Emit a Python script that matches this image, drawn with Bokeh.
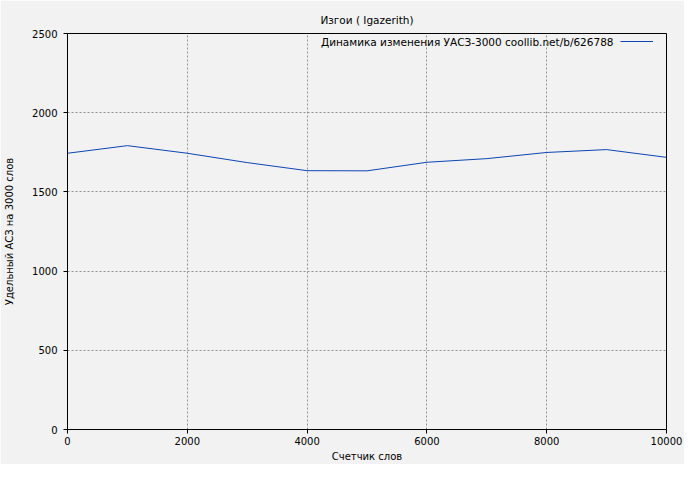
from bokeh.plotting import figure
from bokeh.models import ColumnDataSource, Legend, LegendItem, Label, FixedTicker, Range1d
from bokeh.core.properties import value
from bokeh.embed import file_html
from bokeh.resources import INLINE

# data
words = [0, 1000, 2000, 3000, 4000, 5000, 6000, 7000, 8000, 9000, 10000]
uasz = [1744, 1792, 1744, 1685, 1634, 1633, 1687, 1710, 1749, 1767, 1718]
x_ticks = [0, 2000, 4000, 6000, 8000, 10000]
y_ticks = [0, 500, 1000, 1500, 2000, 2500]
title_text = "Изгои ( Igazerith)"
legend_text = "Динамика изменения УАСЗ-3000 coollib.net/b/626788"
x_label = "Счетчик слов"
y_label = "Удельный АСЗ на 3000 слов"

FONT = "DejaVu Sans"
BG = "#f2f2f2"
LINE = "#0b46b4"

W, H = 684, 464
LEFT, RIGHT, TOP, BOTTOM = 67, 18, 33, 30
FW = W - LEFT - RIGHT
FH = H - TOP - BOTTOM

src = ColumnDataSource(dict(x=words, y=uasz))

p = figure(width=W, height=H, output_backend="svg", toolbar_location=None,
           x_range=Range1d(0, 10000), y_range=Range1d(0, 2500),
           min_border_left=LEFT, min_border_right=RIGHT, min_border_top=TOP,
           min_border_bottom=BOTTOM)
p.background_fill_color = BG
p.border_fill_color = BG
p.outline_line_color = "black"
p.outline_line_width = 1

p.title.text = title_text
p.title.align = "center"
p.title.text_font = FONT
p.title.text_font_size = "10.5px"
p.title.text_font_style = "normal"
p.title.text_color = "black"
p.title.offset = 0
p.title.standoff = 16

for ax in (p.xaxis[0], p.yaxis[0]):
    ax.axis_line_color = "black"
    ax.major_tick_line_color = "black"
    ax.minor_tick_line_color = None
    ax.major_tick_in = 0
    ax.major_tick_out = 4
    ax.major_label_text_font = FONT
    ax.major_label_text_font_size = "10px"
    ax.major_label_text_color = "black"
    ax.axis_label_text_font = FONT
    ax.axis_label_text_font_size = "10px"
    ax.axis_label_text_font_style = "normal"
    ax.axis_label_text_color = "black"
    ax.major_label_standoff = 3
    ax.axis_label_standoff = 3

p.xaxis.ticker = FixedTicker(ticks=x_ticks)
p.yaxis.ticker = FixedTicker(ticks=y_ticks)
p.xaxis.axis_label = x_label
p.yaxis.axis_label = y_label
p.yaxis.major_label_orientation = "horizontal"
p.yaxis.major_label_standoff = 6
p.yaxis.axis_label_standoff = 14

for g in (p.xgrid[0], p.ygrid[0]):
    g.grid_line_color = "#909090"
    g.grid_line_dash = "2 2"
    g.grid_line_width = 1

r = p.line("x", "y", source=src, line_color=LINE, line_width=1)

leg = Legend(items=[LegendItem(label=value(""), renderers=[r])],
             location=(FW - 46, FH - 23), background_fill_alpha=0, border_line_color=None,
             glyph_width=33, label_width=0, label_standoff=0, padding=0, margin=0,
             label_text_font_size="10px")
p.add_layout(leg)

lab = Label(x=FW - 53, y=FH - 13, x_units="screen", y_units="screen", text=legend_text,
            text_font=FONT, text_font_size="10.5px", text_color="black",
            text_align="right", text_baseline="middle")
p.add_layout(lab)

open("out.html", "w").write(file_html(p, INLINE))
